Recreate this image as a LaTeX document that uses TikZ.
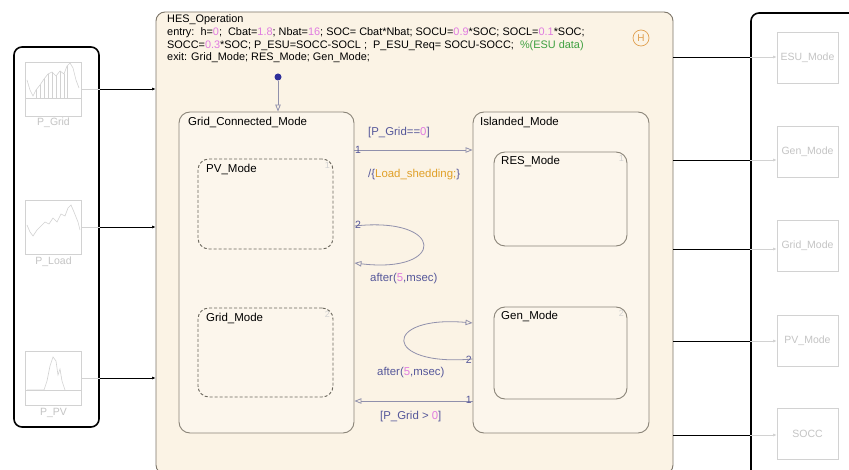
\documentclass[tikz,border=0pt]{standalone}
\usepackage{fontspec}
\setmainfont{Liberation Sans}
\usetikzlibrary{arrows.meta,calc}
\definecolor{chartfill}{HTML}{FBF3E5}
\definecolor{chartbd}{HTML}{7E766A}
\definecolor{statefill}{HTML}{FCF6EC}
\definecolor{statebd}{HTML}{8A8478}
\definecolor{dashbd}{HTML}{6A665C}
\definecolor{trc}{HTML}{9090AC}
\definecolor{lblc}{HTML}{55579A}
\definecolor{numc}{HTML}{E07CE0}
\definecolor{actc}{HTML}{E0A028}
\definecolor{cmtc}{HTML}{3FA040}
\definecolor{hc}{HTML}{E0A050}
\definecolor{faint}{HTML}{D2D2D2}
\definecolor{fainttxt}{HTML}{C4C4C4}
\definecolor{dotc}{HTML}{2E2E9A}
\newcommand\nm[1]{\textcolor{numc}{#1}}
\begin{document}
\begin{tikzpicture}[x=1pt,y=-1pt,
  chartbox/.style={draw=chartbd,fill=chartfill,rounded corners=9pt,line width=0.9pt,inner sep=0pt},
  statebox/.style={draw=statebd,fill=statefill,rounded corners=11pt,line width=0.9pt,inner sep=0pt},
  subdash/.style={statebox,draw=dashbd,densely dashed},
  stname/.style={anchor=north west,inner sep=0pt,font=\fontsize{11.5}{13}\selectfont},
  hdr/.style={anchor=west,inner sep=0pt,font=\fontsize{10.9}{12}\selectfont},
  trans/.style={draw=trc,line width=0.8pt,-{Triangle[open,length=7pt,width=5.5pt]}},
  trlbl/.style={inner sep=0pt,font=\fontsize{11.4}{13}\selectfont,text=lblc},
  trnum/.style={inner sep=0pt,font=\fontsize{10.5}{12}\selectfont,text=lblc},
  snum/.style={anchor=north east,inner sep=0pt,font=\fontsize{9}{10}\selectfont,text=faint},
  panel/.style={draw=black,line width=1.6pt,rounded corners=8pt,inner sep=0pt},
  icon/.style={draw=faint,line width=0.8pt,inner sep=0pt,minimum width=56pt,minimum height=54pt},
  iconlbl/.style={inner sep=0pt,font=\fontsize{10.5}{12}\selectfont,text=fainttxt},
  outbox/.style={draw=faint,line width=0.8pt,inner sep=0pt,minimum width=61pt,minimum height=51pt,font=\fontsize{10.5}{12}\selectfont,text=fainttxt},
  sig/.style={draw=black,line width=0.6pt},
  fsig/.style={draw=faint,line width=0.6pt}]
\useasboundingbox (0,0) rectangle (849,470);
\clip (0,0) rectangle (849,470);
\fill[white] (0,0) rectangle (849,470);

% ---------- chart ----------
\node[chartbox,minimum width=517pt,minimum height=462pt] (chart) at (414.5,243) {};
\node[hdr] (h1) at (167,20) {HES\_Operation};
\node[hdr] (h2) at (167,33) {entry:\ \ h=\nm{0};\ \ Cbat=\nm{1.8}; Nbat=\nm{16}; SOC= Cbat*Nbat; SOCU=\nm{0.9}*SOC; SOCL=\nm{0.1}*SOC;};
\node[hdr] (h3) at (167,45.5) {SOCC=\nm{0.3}*SOC; P\_ESU=SOCC-SOCL ;\ \ P\_ESU\_Req= SOCU-SOCC;\ \ \textcolor{cmtc}{\%(ESU data)}};
\node[hdr] (h4) at (167,58) {exit: Grid\_Mode; RES\_Mode; Gen\_Mode;};
\node[draw=hc,circle,line width=0.7pt,minimum size=16pt,inner sep=0pt,text=hc,font=\fontsize{10}{11}\selectfont] (hist) at (641,38) {H};

% ---------- superstates ----------
\node[statebox,minimum width=175pt,minimum height=321pt] (gcm) at (266.5,272.5) {};
\node[stname] (gcml) at (188,117) {Grid\_Connected\_Mode};
\node[statebox,minimum width=176pt,minimum height=321pt] (isl) at (561,272.5) {};
\node[stname] (isll) at (480,117) {Islanded\_Mode};

% ---------- substates ----------
\node[subdash,minimum width=135pt,minimum height=90pt] (pv) at (265.5,204) {};
\node[stname] (pvl) at (206,164) {PV\_Mode};
\node[snum] (pvn) at (330,162) {1};
\node[subdash,minimum width=135pt,minimum height=89pt] (gm) at (265.5,352.5) {};
\node[stname] (gml) at (206,313) {Grid\_Mode};
\node[snum] (gmn) at (330,311) {2};
\node[statebox,minimum width=133pt,minimum height=94pt] (res) at (560.5,199) {};
\node[stname] (resl) at (501,156) {RES\_Mode};
\node[snum] (resn) at (624,155) {1};
\node[statebox,minimum width=133pt,minimum height=92pt] (gen) at (560.5,353) {};
\node[stname] (genl) at (501,311) {Gen\_Mode};
\node[snum] (genn) at (624,310) {2};

% ---------- default transition ----------
\node[circle,fill=dotc,minimum size=7pt,inner sep=0pt] (dflt) at (278,77) {};
\draw[trans] (dflt) -- (dflt |- gcm.north);

% ---------- transitions ----------
\draw[trans] (gcm.east |- 0,150) -- (isl.west |- 0,150);
\node[trnum,anchor=west] (n1a) at (355,150) {1};
\node[trlbl,anchor=west] (l1) at (368,133) {[P\_Grid==\nm{0}]};
\node[trlbl,anchor=west] (l1b) at (368,175) {/\{\textcolor{actc}{Load\_shedding;}\}};

\draw[trans] (gcm.east |- 0,226) .. controls (446,216) and (446,274) .. (gcm.east |- 0,263);
\node[trnum,anchor=west] (n2a) at (355,225) {2};
\node[trlbl,anchor=west] (l2) at (370,279) {after(\nm{5},msec)};

\draw[trans] (isl.west |- 0,359) .. controls (382,367) and (382,315) .. (isl.west |- 0,323);
\node[trnum,anchor=east] (n2b) at (472,360) {2};
\node[trlbl,anchor=west] (l3) at (377,373) {after(\nm{5},msec)};

\draw[trans] (isl.west |- 0,401) -- (gcm.east |- 0,401);
\node[trnum,anchor=east] (n1b) at (472,400) {1};
\node[trlbl,anchor=west] (l4) at (380,417) {[P\_Grid > \nm{0}]};

% ---------- left panel ----------
\node[panel,minimum width=85pt,minimum height=380pt] (lp) at (56.5,237) {};
\node[icon] (pg) at (53.5,89) {};
\node[iconlbl] (pgl) at (53.5,123) {P\_Grid};
\node[icon] (pl) at (53.5,227) {};
\node[iconlbl] (pll) at (53.5,262) {P\_Load};
\node[icon] (pp) at (53.5,378) {};
\node[iconlbl] (ppl) at (53.5,413) {P\_PV};

% icon plots
\draw[faint,line width=0.5pt] (26,98) -- (81,98);
\draw[faint,line width=0.6pt] (27,80)--(30,90)--(33,96)--(36,90)--(40,85)--(44,79)--(48,74)--(52,72)--(56,76)--(60,71)--(64,74)--(67,66)--(70,63)--(73,68)--(76,80)--(79,88);
\foreach \xx/\yy in {36/90,40/85,44/79,48/74,52/72,56/76,60/71,64/74,67/66}
  \draw[faint,line width=0.5pt] (\xx,\yy) -- (\xx,98);
\draw[faint,line width=0.6pt] (27,225)--(30,232)--(33,236)--(37,230)--(41,226)--(45,222)--(49,224)--(53,218)--(57,222)--(61,214)--(65,216)--(68,208)--(71,205)--(74,212)--(78,222)--(80,230);
\draw[faint,line width=0.5pt] (26,390) -- (81,390);
\draw[faint,line width=0.6pt] (27,390)--(44,390)--(47,381)--(50,366)--(53,357)--(56,361)--(58,375)--(60,369)--(62,381)--(65,390);

% left signals
\foreach \src in {pg,pl,pp}{
  \draw[fsig] (\src.east) -- (\src.east -| lp.east);
  \draw[sig,-{Latex[length=3.5pt,width=3pt]}] (\src.east -| lp.east) -- (\src.east -| chart.west);
}

% ---------- right panel ----------
\node[panel,minimum width=130pt,minimum height=490pt] (rp) at (816,258) {};
\node[outbox] (o1) at (807.5,57.5) {ESU\_Mode};
\node[outbox] (o2) at (807.5,151.5) {Gen\_Mode};
\node[outbox] (o3) at (807.5,246) {Grid\_Mode};
\node[outbox] (o4) at (807.5,340.5) {PV\_Mode};
\node[outbox] (o5) at (807.5,434) {SOCC};
\foreach \dst/\yy in {o1/57,o2/160,o3/249,o4/341,o5/435}{
  \draw[sig] (chart.east |- 0,\yy) -- (rp.west |- 0,\yy);
  \draw[fsig,-{Latex[length=3.5pt,width=3pt]}] (rp.west |- 0,\yy) -- (\dst.west |- 0,\yy);
}
\end{tikzpicture}
\end{document}
